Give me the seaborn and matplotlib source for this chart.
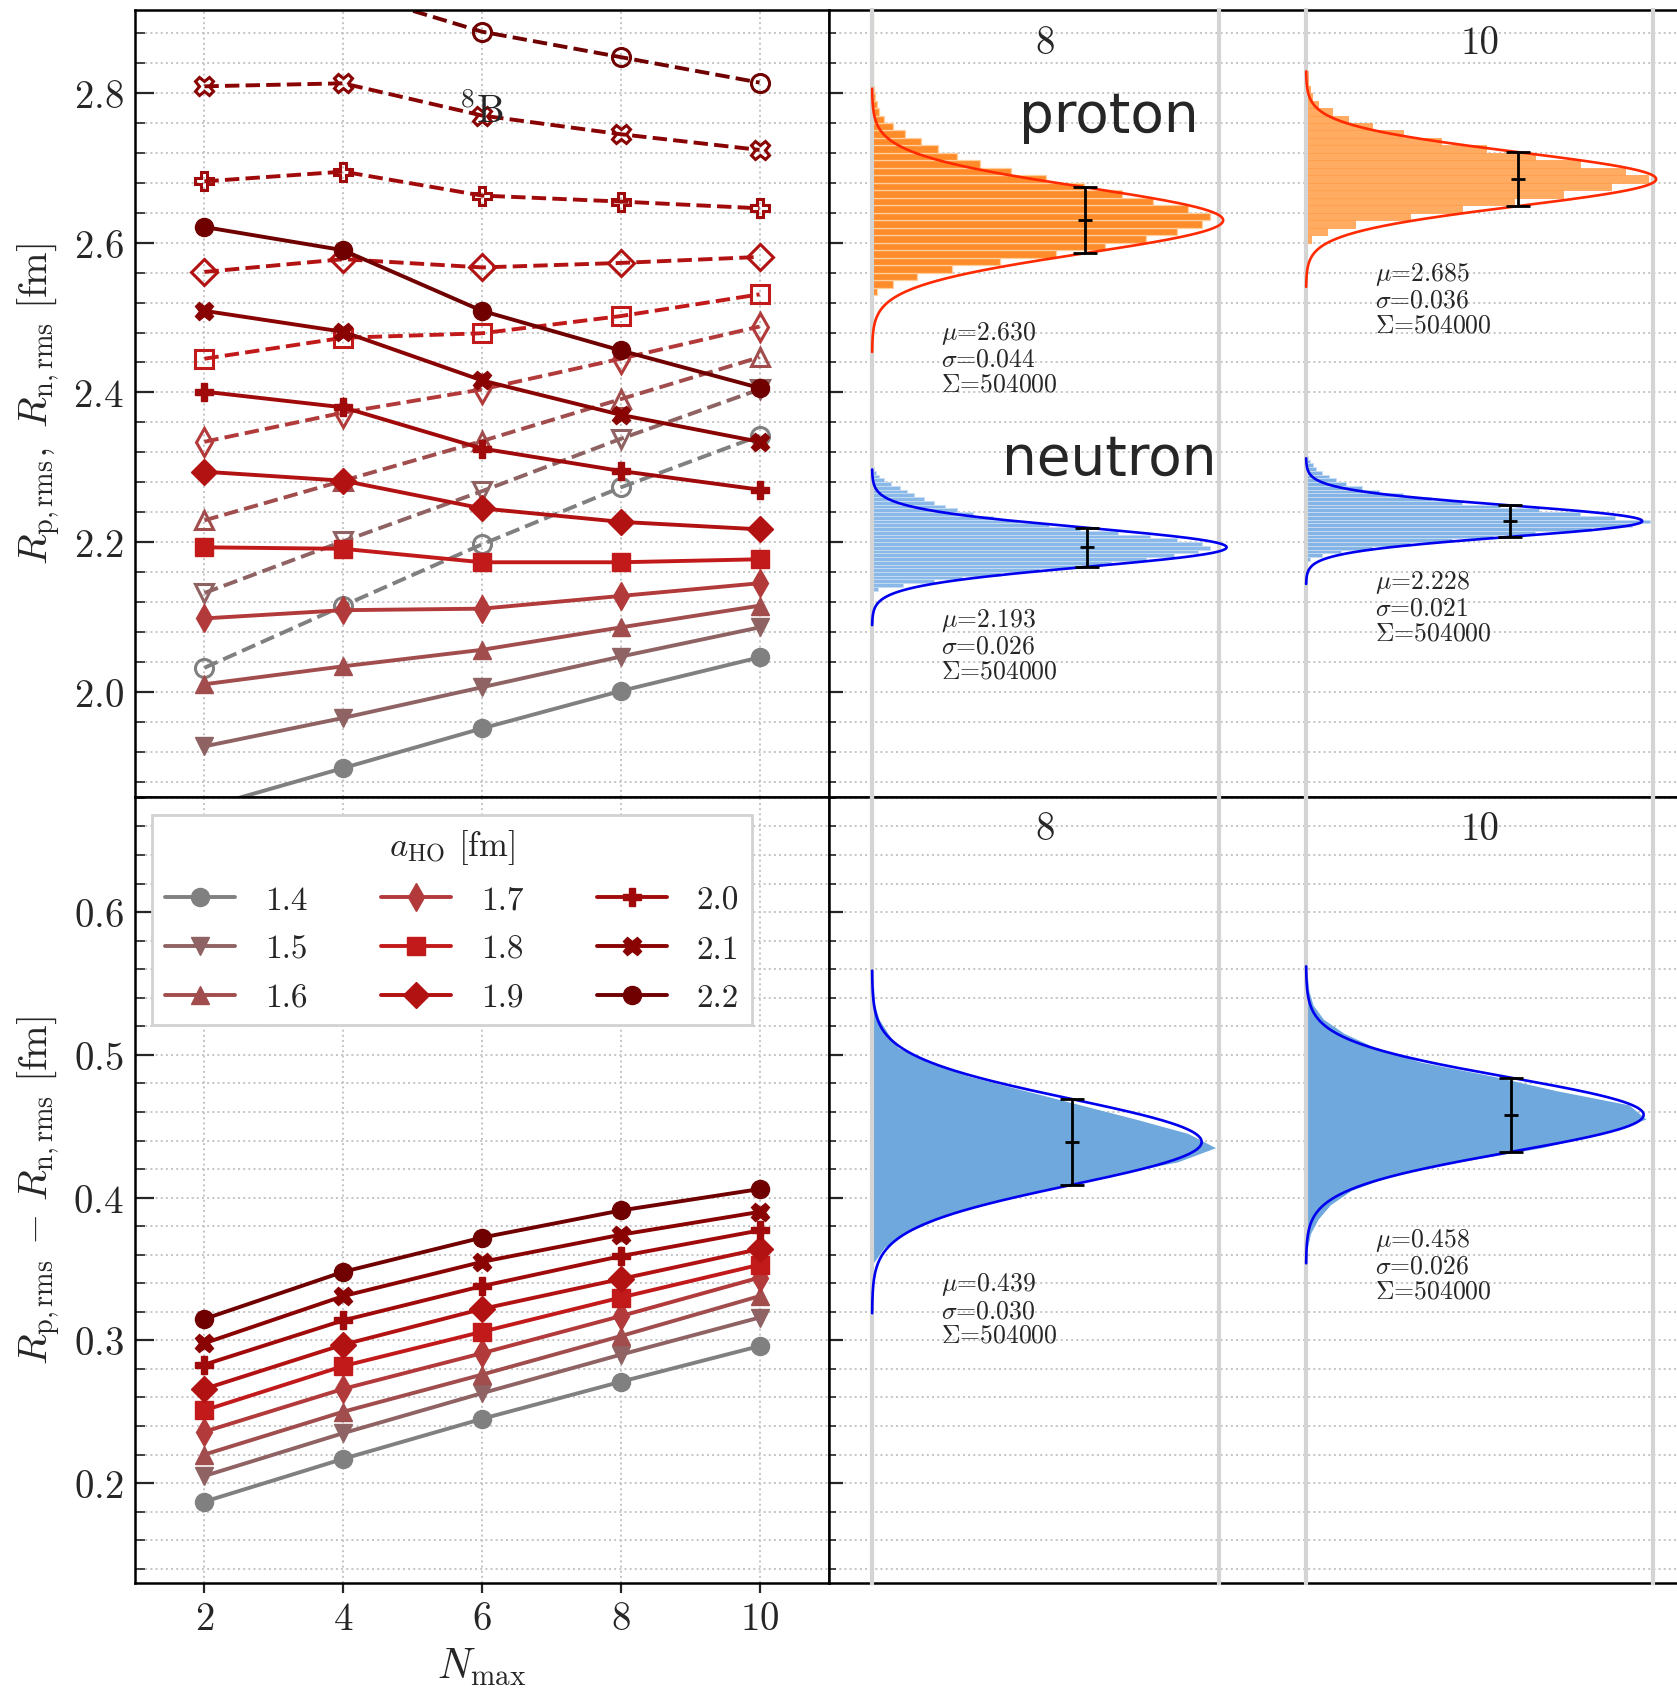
import numpy as np
import pandas as pd
import matplotlib
matplotlib.use("Agg")
import matplotlib.pyplot as plt
from matplotlib.ticker import MultipleLocator
import seaborn as sns

# ---------------------------------------------------------------- data
n_max = [2, 4, 6, 8, 10]
a_ho_labels = ["1.4", "1.5", "1.6", "1.7", "1.8", "1.9", "2.0", "2.1", "2.2"]
line_colors = ["#808080", "#8f6363", "#a24d4d", "#b23a3a", "#c21a1a",
               "#b21212", "#a10a0a", "#8a0303", "#700000"]
line_markers = ["o", "v", "^", "d", "s", "D", "P", "X", "o"]

# neutron rms radius (solid, filled markers)
r_n = [
    [1.845, 1.898, 1.951, 2.001, 2.046],
    [1.927, 1.965, 2.006, 2.047, 2.086],
    [2.010, 2.034, 2.056, 2.086, 2.115],
    [2.098, 2.109, 2.111, 2.128, 2.145],
    [2.193, 2.191, 2.173, 2.173, 2.177],
    [2.294, 2.282, 2.245, 2.227, 2.217],
    [2.401, 2.380, 2.325, 2.295, 2.270],
    [2.509, 2.481, 2.416, 2.370, 2.334],
    [2.621, 2.590, 2.509, 2.456, 2.406],
]
# proton rms radius (dashed, open markers)
r_p = [
    [2.032, 2.115, 2.197, 2.273, 2.342],
    [2.132, 2.201, 2.268, 2.338, 2.404],
    [2.229, 2.282, 2.335, 2.391, 2.447],
    [2.334, 2.373, 2.404, 2.445, 2.488],
    [2.445, 2.473, 2.479, 2.502, 2.531],
    [2.561, 2.578, 2.567, 2.573, 2.581],
    [2.682, 2.695, 2.663, 2.655, 2.646],
    [2.809, 2.813, 2.770, 2.745, 2.724],
    [2.937, 2.938, 2.882, 2.848, 2.814],
]
# proton - neutron radius difference
r_diff = [
    [0.187, 0.217, 0.245, 0.271, 0.296],
    [0.205, 0.235, 0.263, 0.290, 0.316],
    [0.220, 0.250, 0.276, 0.303, 0.331],
    [0.236, 0.266, 0.291, 0.317, 0.344],
    [0.251, 0.282, 0.306, 0.330, 0.353],
    [0.266, 0.297, 0.322, 0.343, 0.364],
    [0.283, 0.314, 0.338, 0.359, 0.377],
    [0.298, 0.331, 0.355, 0.374, 0.390],
    [0.315, 0.348, 0.372, 0.391, 0.406],
]

# sampled distributions at N_max = 8 and 10 (relative bin heights)
hist_p8_start, hist_p8_step = 2.530, 0.01
hist_p8 = [0.015, 0.06, 0.13, 0.23, 0.37, 0.53, 0.67, 0.79, 0.88, 0.95,
           0.975, 0.91, 0.81, 0.72, 0.61, 0.50, 0.40, 0.31, 0.245, 0.19,
           0.14, 0.095, 0.06, 0.035, 0.02, 0.013, 0.009, 0.006, 0.004, 0.004,
           0.004, 0.004, 0.004, 0.004, 0.004, 0.004, 0.004, 0.004]

hist_n8_start, hist_n8_step = 2.130, 0.005
hist_n8 = [0.004, 0.018, 0.09, 0.18, 0.26, 0.37, 0.48, 0.59, 0.69, 0.79,
           0.87, 0.94, 0.975, 0.95, 0.88, 0.80, 0.71, 0.60, 0.51, 0.42,
           0.35, 0.29, 0.245, 0.21, 0.18, 0.15, 0.12, 0.10, 0.08, 0.055,
           0.035, 0.02, 0.012, 0.007, 0.004, 0.004, 0.004, 0.004, 0.004, 0.004,
           0.004, 0.004, 0.004]

hist_p10_start, hist_p10_step = 2.600, 0.01
hist_p10 = [0.015, 0.06, 0.14, 0.30, 0.45, 0.60, 0.74, 0.88, 0.985, 0.92,
            0.79, 0.66, 0.52, 0.39, 0.28, 0.19, 0.12, 0.075, 0.035, 0.018,
            0.011, 0.007, 0.005, 0.003, 0.003, 0.003, 0.003, 0.003, 0.003, 0.003,
            0.003]

hist_n10_start, hist_n10_step = 2.175, 0.005
hist_n10 = [0.012, 0.045, 0.10, 0.19, 0.30, 0.42, 0.54, 0.66, 0.82, 0.94,
            0.99, 0.89, 0.79, 0.67, 0.56, 0.45, 0.36, 0.28, 0.21, 0.16,
            0.115, 0.085, 0.065, 0.045, 0.03, 0.02, 0.012, 0.007, 0.004, 0.004,
            0.004, 0.004, 0.004, 0.004, 0.004, 0.004, 0.004, 0.004, 0.004, 0.004,
            0.004, 0.004, 0.004]

hist_d8_start, hist_d8_step = 0.350, 0.01
hist_d8 = [0.006, 0.035, 0.095, 0.19, 0.31, 0.48, 0.67, 0.88, 0.99, 0.91,
           0.76, 0.60, 0.44, 0.28, 0.16, 0.075, 0.046, 0.02, 0.008, 0.005,
           0.003, 0.003, 0.003, 0.003, 0.003, 0.003, 0.003, 0.003, 0.003, 0.003,
           0.003, 0.003, 0.003]

hist_d10_start, hist_d10_step = 0.360, 0.01
hist_d10 = [0.004, 0.013, 0.035, 0.07, 0.13, 0.24, 0.44, 0.68, 0.85, 0.98,
            0.93, 0.72, 0.54, 0.33, 0.20, 0.11, 0.05, 0.02, 0.008, 0.004,
            0.003, 0.003, 0.003, 0.003, 0.003, 0.003, 0.003, 0.003, 0.003, 0.003,
            0.003, 0.003]

# gaussian fits: proton 8, proton 10, neutron 8, neutron 10, diff 8, diff 10
fit_mu = [2.630, 2.685, 2.193, 2.228, 0.439, 0.458]
fit_sigma = [0.044, 0.036, 0.026, 0.021, 0.030, 0.026]
fit_peak = [1.012, 1.009, 1.022, 0.969, 0.950, 0.973]
fit_total = [504000, 504000, 504000, 504000, 504000, 504000]
panel_titles = ["8", "10"]

# ---------------------------------------------------------------- style
sns.set_style("ticks")
plt.rcParams.update({
    "font.family": "cmr10",
    "mathtext.fontset": "cm",
    "axes.formatter.use_mathtext": True,
    "axes.linewidth": 1.8,
    "axes.unicode_minus": False,
})

GRID = dict(ls=":", color="#c4c4c4", lw=1.4)
TICK_FS = 28

fig = plt.figure(figsize=(16.77, 16.90), dpi=100)
L, M, R = 0.0805, 0.4943, 1.0
B, MID, T = 0.0627, 0.5281, 0.9935

ax_rad = fig.add_axes([L, MID, M - L, T - MID])
ax_dif = fig.add_axes([L, B, M - L, MID - B])
rt_top = fig.add_axes([M, MID, R - M, T - MID])
rt_bot = fig.add_axes([M, B, R - M, MID - B])

lims_top = (1.860, 2.911)
lims_bot = (0.130, 0.681)


def style_main(ax, ylim, major, minor):
    ax.set_ylim(*ylim)
    ax.yaxis.set_major_locator(MultipleLocator(major))
    ax.yaxis.set_minor_locator(MultipleLocator(minor))
    ax.grid(True, which="both", axis="y", **GRID)
    for s in ax.spines.values():
        s.set_color("black")
        s.set_linewidth(1.8)


for ax, ylim, major, minor in [(ax_rad, lims_top, 0.2, 0.04),
                               (ax_dif, lims_bot, 0.1, 0.02)]:
    style_main(ax, ylim, major, minor)
    ax.set_xlim(1, 11)
    ax.set_xticks(n_max)
    ax.grid(True, which="major", axis="x", **GRID)
    ax.tick_params(axis="y", which="major", direction="in", length=14, width=1.6,
                   left=True, right=False, labelsize=TICK_FS, pad=8)
    ax.tick_params(axis="y", which="minor", direction="in", length=7, width=1.2,
                   left=True, right=False)
    ax.tick_params(axis="x", which="major", direction="out", length=7, width=1.6,
                   labelsize=TICK_FS, pad=6)

ax_rad.tick_params(axis="x", bottom=False, labelbottom=False)

for ax, ylim, major, minor in [(rt_top, lims_top, 0.2, 0.04),
                               (rt_bot, lims_bot, 0.1, 0.02)]:
    style_main(ax, ylim, major, minor)
    ax.spines["right"].set_visible(False)
    ax.set_xticks([])
    ax.set_xlim(0, 1)
    ax.tick_params(axis="y", which="major", direction="in", length=10, width=1.6,
                   labelleft=False)
    ax.tick_params(axis="y", which="minor", direction="in", length=5, width=1.2)

# ---------------------------------------------------------------- radii vs N_max
LW = 2.8
for i, lab in enumerate(a_ho_labels):
    c, m = line_colors[i], line_markers[i]
    ms = 14 if m == "d" else 13
    sns.lineplot(x=n_max, y=r_p[i], ax=ax_rad, color=c, marker=m, ms=ms,
                 mfc="none", mec=c, mew=2.2, lw=LW, ls="--")
    sns.lineplot(x=n_max, y=r_n[i], ax=ax_rad, color=c, marker=m, ms=ms,
                 mfc=c, mec=c, mew=1.0, lw=LW, ls="-")
    sns.lineplot(x=n_max, y=r_diff[i], ax=ax_dif, color=c, marker=m, ms=ms,
                 mfc=c, mec=c, mew=1.0, lw=LW, ls="-", label=lab)

ax_rad.set_ylim(*lims_top)
ax_dif.set_ylim(*lims_bot)
ax_rad.set_xlim(1, 11)
ax_dif.set_xlim(1, 11)

ax_rad.text(6.0, 2.777, r"$^{8}$B", ha="center", va="center", fontsize=28)

ax_rad.set_xlabel("")
ax_rad.set_ylabel(r"$R_{\rm p,rms},\ R_{\rm n,rms}\ [{\rm fm}]$", fontsize=29)
ax_dif.set_ylabel(r"$R_{\rm p,rms}\,-\,R_{\rm n,rms}\ [{\rm fm}]$", fontsize=29)
ax_dif.set_xlabel(r"$N_{\rm max}$", fontsize=30)
ax_rad.yaxis.set_label_coords(-0.104, 0.5)
ax_dif.yaxis.set_label_coords(-0.104, 0.5)
ax_dif.xaxis.set_label_coords(0.5, -0.080)

leg = ax_dif.legend(ncol=3, loc="upper left", bbox_to_anchor=(0.025, 0.977),
                    borderaxespad=0, fontsize=24, title=r"$a_{\rm HO}$ [fm]",
                    title_fontsize=25, frameon=True, fancybox=False,
                    framealpha=1.0, edgecolor="#d2d2d2", handlelength=2.1,
                    handletextpad=0.9, columnspacing=2.2, labelspacing=0.58,
                    borderpad=0.38)
leg.get_frame().set_linewidth(2.0)

# ---------------------------------------------------------------- distribution panels
P8_X, P10_X, PW = 0.520, 0.7788, 0.2069


def make_panel(x0, y0, h):
    a = fig.add_axes([x0, y0, PW, h])
    a.set_facecolor("none")
    a.spines["top"].set_visible(False)
    a.spines["bottom"].set_visible(False)
    for s in ("left", "right"):
        a.spines[s].set_color("#d4d4d4")
        a.spines[s].set_linewidth(3.0)
    a.tick_params(left=False, bottom=False, labelleft=False, labelbottom=False)
    a.grid(False)
    return a


def draw_hist(a, start, step, counts, element, color, edge, lw):
    n = len(counts)
    edges = start + step * np.arange(n + 1)
    frame = pd.DataFrame({"value": edges[:-1] + step / 2,
                          "count": np.asarray(counts, dtype=float)})
    sns.histplot(data=frame, y="value", weights="count", binwidth=step,
                 binrange=(start, start + step * n), element=element, ax=a,
                 color=color, edgecolor=edge, linewidth=lw, alpha=1.0, zorder=2)


def draw_fit(a, k, color):
    mu, sig, peak = fit_mu[k], fit_sigma[k], fit_peak[k]
    y = np.linspace(mu - 4 * sig, mu + 4 * sig, 500)
    x = peak * np.exp(-0.5 * ((y - mu) / sig) ** 2)
    a.plot(x, y, color=color, lw=1.9, clip_on=False, zorder=4)
    a.errorbar(peak * np.exp(-0.5), mu, yerr=sig, fmt="_", color="black",
               ms=10, mew=2.0, elinewidth=2.0, capsize=8.5, capthick=2.0, zorder=5)
    a.text(0.2, mu - 3 * sig,
           f"$\\mu$={mu:.3f}\n$\\sigma$={sig:.3f}\n$\\Sigma$={fit_total[k]}",
           ha="left", va="top", fontsize=18.5, linespacing=1.05, zorder=6)


p8_top = make_panel(P8_X, MID, T - MID)
p10_top = make_panel(P10_X, MID, T - MID)
p8_bot = make_panel(P8_X, B, MID - B)
p10_bot = make_panel(P10_X, B, MID - B)

draw_hist(p8_top, hist_p8_start, hist_p8_step, hist_p8, "bars", "#ff8c2a", "#ffcf9e", 0.9)
draw_hist(p8_top, hist_n8_start, hist_n8_step, hist_n8, "bars", "#8ab8e8", "#c8ddf3", 0.6)
draw_hist(p10_top, hist_p10_start, hist_p10_step, hist_p10, "bars", "#ffab62", "#ff9a48", 0.5)
draw_hist(p10_top, hist_n10_start, hist_n10_step, hist_n10, "bars", "#84b4e6", "#c8ddf3", 0.6)
draw_hist(p8_bot, hist_d8_start, hist_d8_step, hist_d8, "poly", "#6ea8dc", "#6ea8dc", 0.0)
draw_hist(p10_bot, hist_d10_start, hist_d10_step, hist_d10, "poly", "#6ea8dc", "#6ea8dc", 0.0)

draw_fit(p8_top, 0, "#ff2a00")
draw_fit(p10_top, 1, "#ff2a00")
draw_fit(p8_top, 2, "#0000ee")
draw_fit(p10_top, 3, "#0000ee")
draw_fit(p8_bot, 4, "#0000ee")
draw_fit(p10_bot, 5, "#0000ee")

for a, ylim in [(p8_top, lims_top), (p10_top, lims_top),
                (p8_bot, lims_bot), (p10_bot, lims_bot)]:
    a.set_xlim(0, 1)
    a.set_ylim(*ylim)
    a.set_xlabel("")
    a.set_ylabel("")

for a, title in [(p8_top, panel_titles[0]), (p10_top, panel_titles[1]),
                 (p8_bot, panel_titles[0]), (p10_bot, panel_titles[1])]:
    a.text(0.5, 0.958, title, transform=a.transAxes, ha="center", va="center",
           fontsize=28)

p8_top.text(0.683, 2.770, "proton", ha="center", va="center", fontsize=39.5,
            family="DejaVu Sans")
p8_top.text(0.683, 2.311, "neutron", ha="center", va="center", fontsize=39.5,
            family="DejaVu Sans")

fig.savefig("out.png", dpi=100)
